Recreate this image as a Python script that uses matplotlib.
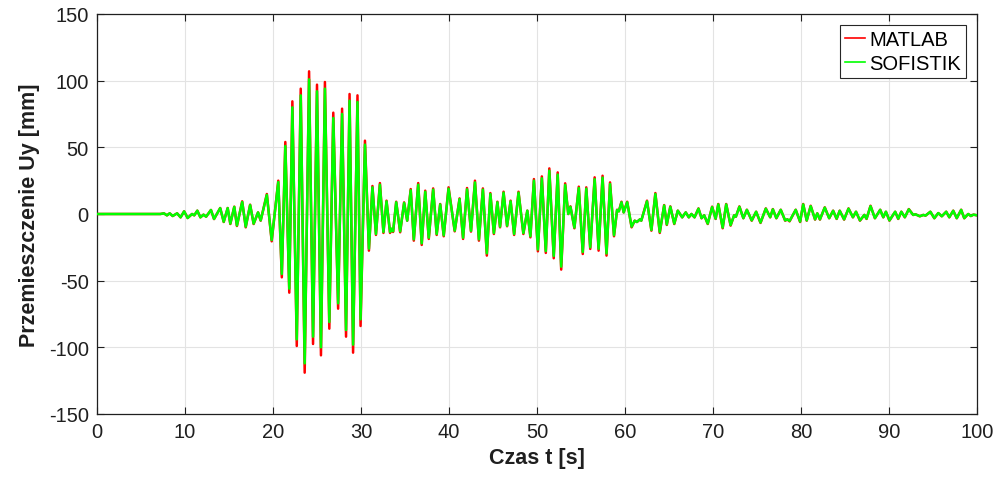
import matplotlib
matplotlib.use("Agg")
import matplotlib.pyplot as plt
from matplotlib.lines import Line2D

# Extremum times [s] and displacements [mm]
t_ext = [0, 7.2, 7.6, 7.95, 8.26, 8.6, 9.1, 9.5, 9.9, 10.3,
         10.8, 11.05, 11.4, 11.75, 12.1, 12.4, 12.95, 13.3, 14.0, 14.4,
         14.85, 15.15, 15.6, 15.9, 16.5, 16.9, 17.4, 17.8, 18.3, 18.6,
         19.3, 19.85, 20.6, 21.0, 21.4, 21.85, 22.2, 22.7, 23.15, 23.6,
         24.1, 24.55, 25.0, 25.45, 25.9, 26.4, 26.85, 27.4, 27.85, 28.3,
         28.7, 29.1, 29.6, 29.95, 30.45, 30.9, 31.3, 31.7, 32.15, 32.55,
         32.9, 33.3, 33.45, 33.65, 34.0, 34.45, 34.9, 35.25, 35.65, 36.0,
         36.5, 36.9, 37.3, 37.7, 38.2, 38.6, 39.0, 39.4, 39.95, 40.65,
         41.2, 41.6, 42.05, 42.5, 42.95, 43.4, 43.85, 44.3, 44.7, 45.1,
         45.5, 45.8, 46.2, 46.6, 47.0, 47.4, 47.9, 48.45, 48.9, 49.25,
         49.65, 50.1, 50.55, 51.0, 51.4, 51.9, 52.35, 52.75, 53.2, 53.55,
         53.8, 54.25, 54.75, 55.2, 55.6, 56.05, 56.55, 57.0, 57.45, 57.9,
         58.3, 58.75, 59.1, 59.3, 59.6, 59.85, 60.25, 60.75, 61.1, 61.35,
         61.7, 61.85, 62.5, 63.0, 63.45, 63.95, 64.45, 64.75, 65.15, 65.6,
         66.0, 66.5, 66.9, 67.25, 67.55, 67.9, 68.35, 68.7, 69.0, 69.4,
         69.9, 70.3, 70.6, 71.1, 71.5, 72.0, 72.4, 72.6, 73.0, 73.45,
         73.85, 74.4, 74.9, 75.4, 76.0, 76.5, 76.8, 77.2, 77.7, 78.2,
         78.45, 78.7, 79.4, 79.9, 80.25, 80.65, 81.1, 81.6, 81.85, 82.15,
         82.7, 83.2, 83.65, 84.05, 84.4, 84.9, 85.4, 85.9, 86.25, 86.7,
         87.2, 87.45, 87.9, 88.4, 89.0, 89.35, 89.65, 90.05, 90.7, 91.05,
         91.4, 91.8, 92.25, 92.75, 93.0, 93.5, 93.9, 94.15, 94.7, 95.15,
         95.6, 96.0, 96.5, 96.85, 97.3, 97.7, 98.2, 98.55, 99.0, 99.3,
         99.6, 100]

matlab_uy = [0, 0, 0.5, -1, 0.5, -1.5, 0.5, -2.5, 2, -3,
             0, -1, 2.5, -2.5, -0.5, -2, 3, -3.8, 4.5, -6,
             4.5, -7.5, 5.5, -9, 9.5, -10, 7, -7.5, 1.2, -5,
             15, -20.5, 25, -47.5, 54, -59, 84.5, -99, 94, -119,
             107, -97.5, 97, -106, 99, -86, 76, -71, 79, -92,
             90, -104, 89, -84, 55, -27.5, 21, -15.7, 23.2, -14.2,
             10, -14.2, -11.2, -13.5, 9.2, -13.7, 8.7, -5, 18.7, -20,
             23.2, -23.2, 17.5, -18.7, 19.2, -15.7, 7.5, -16.7, 20, -13,
             11.7, -18.7, 19.5, -13.2, 25, -20, 19.2, -31.2, 15.7, -15,
             9.2, -10, 16.7, -9.2, 10, -15.7, 16.7, -15, 2.5, -17.5,
             26.2, -28, 28.2, -29.2, 34.2, -33.2, 31.2, -41.7, 23, 0,
             5.7, -10.7, 20.5, -30, 20, -26.2, 27.5, -27.5, 28.7, -31.2,
             23.7, -16.7, 3.2, 2.0, 9.2, 1.2, 9.2, -10, -5, -6,
             -4, -5, 10, -12.5, 15.7, -14.2, 6.7, -8.2, 5.7, -7.5,
             2.5, -2.5, 1.2, -2.5, 0, -2.5, 4.2, -3.2, -1, -7.5,
             5.5, -3.7, 7.5, -10.7, 7.5, -8.7, -1, -2, 5.7, -3.2,
             3.2, -5, 1.7, -6.7, 4.2, -2.5, 3.7, -3.2, 3.2, -5,
             -4, -5.5, 3.2, -6, 7.5, -5, 6.2, -4.2, 0.5, -4.2,
             5, -3.2, 2.5, -3.7, 2.5, -4.2, 4.2, -2.5, 1.7, -5,
             -0.7, -3.7, 6.2, -3.2, 3.2, -2.5, 1.7, -5, 1.7, -3.7,
             1.7, -2.5, 3.7, -0.7, -0.2, -1.7, -0.7, -1.2, 1.7, -3.2,
             0.7, -1.7, 1.7, -2.5, 2.5, -3.2, 3.2, -3.2, 0, -1.5,
             -0.5, -1]

sofistik_uy = [0, 0, 0.5, -1, 0.5, -1.5, 0.5, -2.5, 2, -3,
               0, -1, 2.5, -2.5, -0.5, -2, 3, -3.7, 4.4, -5.8,
               4.4, -7.2, 5.3, -8.6, 9.0, -9.5, 6.7, -7.2, 1.2, -4.8,
               14.3, -19.5, 24, -45, 51, -56, 80, -94, 89, -112,
               101, -92, 92, -100, 94, -81, 72, -67, 75, -87,
               85, -98, 84, -79, 52, -26, 20, -15, 22, -13.5,
               9.5, -13.5, -11, -13, 8.8, -13, 8.3, -5, 17.8, -19,
               22, -22, 16.7, -17.8, 18.3, -15, 7.2, -16, 19, -12.5,
               11.2, -17.8, 18.5, -12.6, 23.7, -19, 18.3, -29.5, 15, -14.3,
               8.8, -9.5, 16, -8.8, 9.5, -15, 16, -14.3, 2.5, -16.7,
               25, -26.6, 26.8, -27.8, 32.5, -31.5, 29.6, -39.5, 21.8, 0,
               5.4, -10.2, 19.5, -28.5, 19, -25, 26.1, -26.1, 27.3, -29.6,
               22.5, -15.9, 3.0, 2.0, 8.8, 1.2, 8.8, -9.5, -5, -6,
               -4, -5, 9.5, -12, 15, -13.5, 6.4, -7.8, 5.4, -7.2,
               2.5, -2.5, 1.2, -2.5, 0, -2.5, 4.0, -3.1, -1, -7.2,
               5.2, -3.5, 7.2, -10.2, 7.2, -8.3, -1, -2, 5.4, -3.1,
               3.1, -4.8, 1.7, -6.4, 4.0, -2.4, 3.5, -3.1, 3.1, -4.8,
               -4, -5.2, 3.1, -5.7, 7.2, -4.8, 5.9, -4.0, 0.5, -4.0,
               4.8, -3.1, 2.4, -3.5, 2.4, -4.0, 4.0, -2.4, 1.7, -4.8,
               -0.7, -3.5, 5.9, -3.1, 3.1, -2.4, 1.7, -4.8, 1.7, -3.5,
               1.7, -2.4, 3.5, -0.7, -0.2, -1.7, -0.7, -1.2, 1.7, -3.1,
               0.7, -1.7, 1.7, -2.4, 2.4, -3.1, 3.1, -3.1, 0, -1.5,
               -0.5, -1]

series_names = ["MATLAB", "SOFISTIK"]
x_ticks = [0, 10, 20, 30, 40, 50, 60, 70, 80, 90, 100]
y_ticks = [-150, -100, -50, 0, 50, 100, 150]
x_label = "Czas t [s]"
y_label = "Przemieszczenie Uy [mm]"

plt.rcParams['font.family'] = ['Liberation Sans', 'DejaVu Sans']
plt.rcParams['axes.unicode_minus'] = False

fig = plt.figure(figsize=(10.02, 4.81), dpi=100)
ax = fig.add_axes([97/1002, 1 - 415/481, 880/1002, 400/481])

ax.plot(t_ext, matlab_uy, color=(1, 0, 0), lw=1.8, solid_joinstyle='round', zorder=3)
ax.plot(t_ext, sofistik_uy, color=(0, 1, 0), lw=1.8, solid_joinstyle='round', zorder=4)

ax.set_xlim(0, 100)
ax.set_ylim(-150, 150)
ax.set_xticks(x_ticks)
ax.set_yticks(y_ticks)
ax.tick_params(direction='in', top=True, right=True, length=5, width=0.8,
               labelsize=14.5, colors='#1f1f1f', pad=6)
ax.grid(True, color='#e3e3e3', lw=0.8, zorder=0)
ax.set_axisbelow(True)
for sp in ax.spines.values():
    sp.set_color('#1f1f1f')
    sp.set_linewidth(0.9)

ax.set_xlabel(x_label, fontsize=15.5, fontweight='bold', color='#1f1f1f', labelpad=4)
ax.set_ylabel(y_label, fontsize=15.5, fontweight='bold', color='#1f1f1f', labelpad=6)

handles = [Line2D([], [], color=(1, 0, 0), lw=1.2),
           Line2D([], [], color=(0, 1, 0), lw=1.2)]
leg = ax.legend(handles, series_names, loc='upper right', fontsize=14.5,
                handlelength=1.0, handletextpad=0.2, labelspacing=0.25,
                borderpad=0.25, borderaxespad=0.55, fancybox=False, framealpha=1)
leg.get_frame().set_edgecolor('#262626')
leg.get_frame().set_linewidth(0.8)

fig.savefig("out.png", dpi=100)
